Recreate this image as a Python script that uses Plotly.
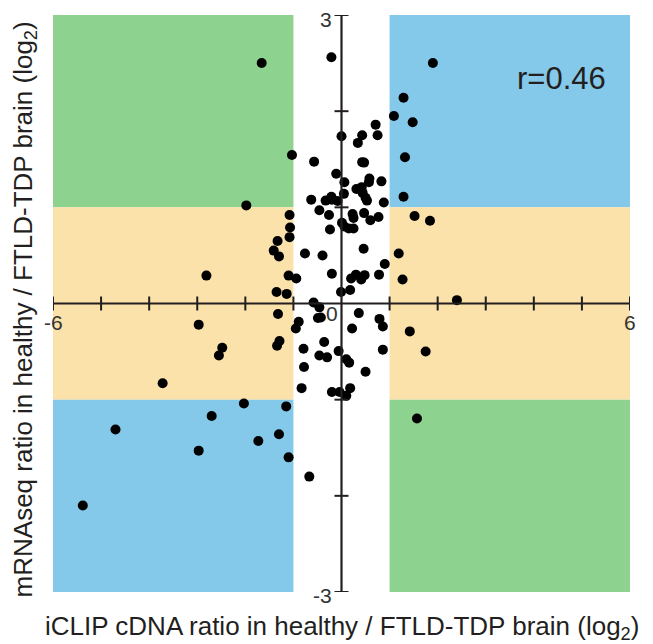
import plotly.graph_objects as go

# iCLIP cDNA ratio (log2) -- x values
x_vals = [
    -1.66, -1.03, -1.98, -1.08, -1.07, -1.08, -1.33, -1.41, -1.30, -2.81,
    -1.10, -1.35, -1.14, -1.32, -2.97, -1.29, -1.34, -2.48, -2.55, -3.72,
    -2.03, -1.15, -2.70, -4.70, -1.30, -1.73, -2.97, -1.10, -5.38,
    -0.57, -0.76, -0.395, -0.94, -0.20, -0.58, -0.46, -0.63, -0.46, -0.26,
    -0.24, -0.11, -0.21, 0.71, 0.00, 0.43, 0.75, 0.34, 0.43, 0.47,
    0.06, 0.58, 0.57, 0.83, 0.31, 0.42, 0.44, 0.05, 0.50, 0.53,
    0.88, -0.33, -0.21, -0.20, -0.08, 0.23, 0.25, 0.47, 0.77, 0.60,
    0.01, 0.06, 0.15, 0.25, 0.46, 0.90, 0.20, 0.30, 0.41, 0.48,
    0.78, -0.01, 0.18, -0.89, -0.95, -0.49, -0.43, -0.79, -0.36, -0.46,
    -0.30, -0.06, -0.78, -0.83, -0.20, -0.04, 0.18, 0.10, 0.36, 0.79,
    0.86, 0.22, 0.86, 0.10, 0.16, 0.50, -0.67,
    1.90, 1.29, 1.09, 1.48, 1.32, 1.29, 1.52, 1.84, 1.19, 1.27,
    2.40, 1.42, 1.75, 1.57,
]
# mRNAseq ratio (log2) -- y values
y_vals = [
    2.50, 1.545, 1.02, 0.92, 0.79, 0.69, 0.65, 0.55, 0.49, 0.29,
    0.29, 0.12, 0.10, -0.11, -0.22, -0.39, -0.44, -0.46, -0.54, -0.83,
    -1.04, -1.07, -1.17, -1.31, -1.36, -1.43, -1.53, -1.60, -2.10,
    1.475, 0.52, 0.50, 0.26, 0.31, 0.01, -0.04, 1.08, 0.97, 0.92,
    0.77, 1.35, 2.56, 1.86, 1.74, 1.75, 1.75, 1.67, 1.47, 1.465,
    1.26, 1.30, 1.26, 1.27, 1.19, 1.21, 1.15, 1.14, 1.10, 1.07,
    1.05, 1.07, 1.11, 1.08, 1.065, 0.93, 0.89, 0.94, 0.90, 0.865,
    0.84, 0.80, 0.78, 0.78, 0.57, 0.41, 0.26, 0.30, 0.25, 0.295,
    0.30, 0.12, 0.14, -0.19, -0.26, -0.15, -0.145, -0.47, -0.40, -0.54,
    -0.56, -0.495, -0.66, -0.88, -0.92, -0.92, -0.88, -0.96, -0.10, -0.16,
    -0.24, -0.26, -0.48, -0.58, -0.615, -0.71, -1.80,
    2.50, 2.14, 1.95, 1.885, 1.52, 1.11, 0.91, 0.86, 0.52, 0.25,
    0.035, -0.29, -0.50, -1.195,
]

x_ticks = [-6, -5, -4, -3, -2, -1, 1, 2, 3, 4, 5, 6]
y_ticks = [-3, -2, -1, 1, 2, 3]
x_range = [-6, 6]
y_range = [-3, 3]

# background quadrant bands: (x0, x1, y0, y1, colour)
bands = [
    (-6, -1, 1, 3, "#8dd28f"),
    (1, 6, 1, 3, "#84c8ea"),
    (-6, -1, -1, 1, "#fbe1aa"),
    (1, 6, -1, 1, "#fbe1aa"),
    (-6, -1, -3, -1, "#84c8ea"),
    (1, 6, -3, -1, "#8dd28f"),
]
r_text = "r=0.46"

INK = "#231f20"
FONT = "Liberation Sans, Arial, Helvetica, sans-serif"

PX_X = 577 / 12.0   # pixels per x unit
PX_Y = 577 / 6.0    # pixels per y unit

fig = go.Figure()
fig.add_trace(go.Scatter(
    x=x_vals, y=y_vals, mode="markers",
    marker=dict(size=10, color="black", line=dict(width=0)),
    cliponaxis=False, hoverinfo="x+y", showlegend=False,
))

shapes = []
for x0, x1, y0, y1, c in bands:
    shapes.append(dict(type="rect", xref="x", yref="y", x0=x0, x1=x1, y0=y0, y1=y1,
                       fillcolor=c, line=dict(width=0), layer="below"))
# axis lines crossing at origin
shapes.append(dict(type="line", xref="x", yref="y", x0=x_range[0], x1=x_range[1], y0=0, y1=0,
                   line=dict(color=INK, width=2.2)))
shapes.append(dict(type="line", xref="x", yref="y", x0=0, x1=0, y0=y_range[0], y1=y_range[1],
                   line=dict(color=INK, width=2.2)))
# tick marks crossing the axes (7 px each side)
for t in x_ticks:
    shapes.append(dict(type="line", xref="x", yref="y", x0=t, x1=t, y0=-7 / PX_Y, y1=7 / PX_Y,
                       line=dict(color=INK, width=2)))
for t in y_ticks:
    shapes.append(dict(type="line", xref="x", yref="y", x0=-7 / PX_X, x1=7 / PX_X, y0=t, y1=t,
                       line=dict(color=INK, width=2)))

tick_font = dict(family=FONT, size=21, color="#333333")
annotations = [
    dict(x=x_range[0], y=0, xref="x", yref="y", text=str(x_range[0]), showarrow=False,
         xanchor="center", yanchor="middle", yshift=-19, font=tick_font),
    dict(x=x_range[1], y=0, xref="x", yref="y", text=str(x_range[1]), showarrow=False,
         xanchor="center", yanchor="middle", yshift=-19, font=tick_font),
    dict(x=0, y=0, xref="x", yref="y", text="0", showarrow=False,
         xanchor="center", yanchor="middle", xshift=-10, yshift=-10, font=tick_font),
    dict(x=0, y=y_range[1], xref="x", yref="y", text=str(y_range[1]), showarrow=False,
         xanchor="right", yanchor="middle", xshift=-8, yshift=-4, font=tick_font),
    dict(x=0, y=y_range[0], xref="x", yref="y", text=str(y_range[0]), showarrow=False,
         xanchor="right", yanchor="middle", xshift=-8, yshift=-3, font=tick_font),
    dict(x=4.57, y=2.36, xref="x", yref="y", text=r_text, showarrow=False,
         xanchor="center", yanchor="middle", yshift=-2,
         font=dict(family=FONT, size=31, color=INK)),
    dict(x=0.5, y=-0.062, xref="paper", yref="paper",
         text="iCLIP cDNA ratio in healthy / FTLD-TDP brain (log<sub>2</sub>)",
         showarrow=False, xanchor="center", yanchor="middle",
         font=dict(family=FONT, size=26, color=INK)),
    dict(x=-0.05, y=0.49, xref="paper", yref="paper", textangle=-90,
         text="mRNAseq ratio in healthy / FTLD-TDP brain (log<sub>2</sub>)",
         showarrow=False, xanchor="center", yanchor="middle",
         font=dict(family=FONT, size=26, color=INK)),
]

# the page body keeps its default 8 px margin, so the figure is 8 px smaller
fig.update_layout(
    width=645, height=636,
    margin=dict(l=45, r=23, t=7, b=52),
    paper_bgcolor="white", plot_bgcolor="white",
    xaxis=dict(range=x_range, visible=False, fixedrange=True),
    yaxis=dict(range=y_range, visible=False, fixedrange=True),
    shapes=shapes, annotations=annotations,
    showlegend=False,
)

fig.write_html("out.html")
